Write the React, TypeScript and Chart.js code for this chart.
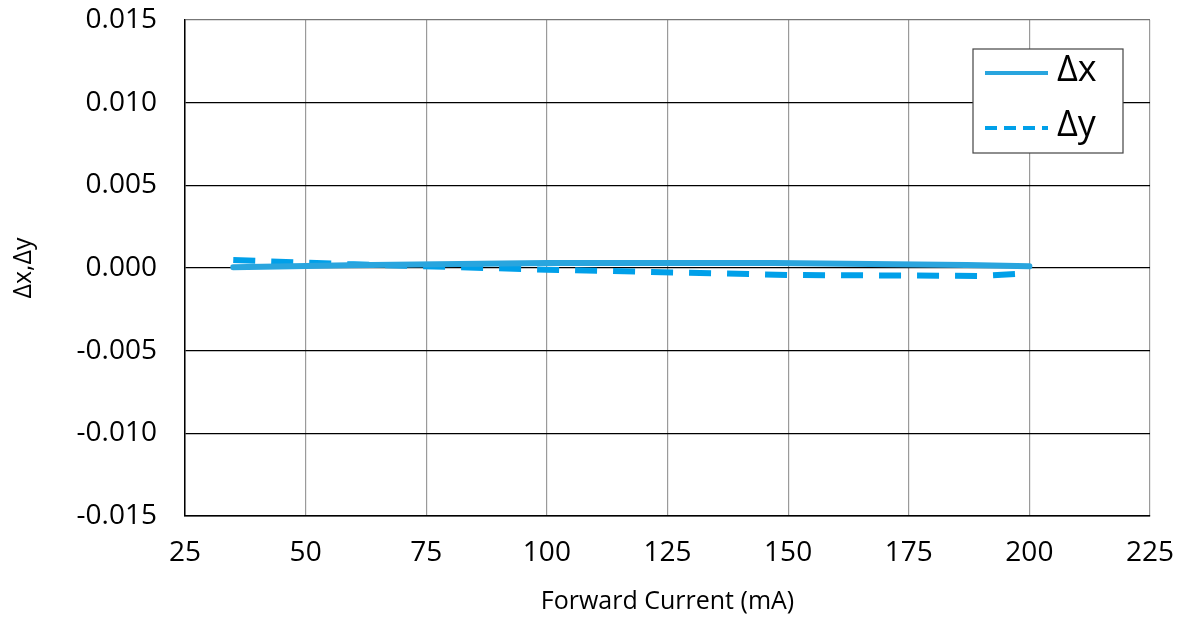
import React, { useEffect, useRef } from "react";
import { Chart, registerables } from "chart.js";

Chart.register(...registerables);

const dxCurrent = [35, 59, 100, 147, 187, 200];
const dxValues = [0.00005, 0.00016, 0.0003, 0.0003, 0.00018, 0.0001];
const dyCurrent = [35, 60, 100, 150, 190, 200];
const dyValues = [0.00048, 0.00022, -0.0001, -0.00042, -0.00048, -0.00032];
const seriesNames = ["Δx", "Δy"];
const xTitle = "Forward Current (mA)";
const yTitle = "Δx,Δy";

const FONT = "'Open Sans', 'Noto Sans', sans-serif";
const SOLID = "#29a5de";
const DASHED = "#00a0e9";

const legendPlugin = {
  id: "customLegend",
  afterDraw(chart: any) {
    const ctx = chart.ctx;
    const ca = chart.chartArea;
    const x0 = ca.right - 177;
    const y0 = ca.top + 29;
    const w = 150;
    const h = 104;
    ctx.save();
    ctx.fillStyle = "#fff";
    ctx.fillRect(x0, y0, w, h);
    ctx.strokeStyle = "#444";
    ctx.lineWidth = 1.2;
    ctx.strokeRect(x0, y0, w, h);
    const rows = [
      { y: y0 + 24, color: SOLID, dash: [] as number[] },
      { y: y0 + 79, color: DASHED, dash: [12, 7] },
    ];
    rows.forEach((r, i) => {
      ctx.beginPath();
      ctx.setLineDash(r.dash);
      ctx.strokeStyle = r.color;
      ctx.lineWidth = 4;
      ctx.moveTo(x0 + 12, r.y);
      ctx.lineTo(x0 + 75, r.y);
      ctx.stroke();
      ctx.setLineDash([]);
      ctx.fillStyle = "#000";
      ctx.font = `36px ${FONT}`;
      ctx.textBaseline = "middle";
      ctx.textAlign = "left";
      ctx.fillText(seriesNames[i], x0 + 84, r.y - 2);
    });
    ctx.restore();
  },
};

export default function App() {
  const ref = useRef<HTMLCanvasElement>(null);
  useEffect(() => {
    const prevMargin = document.body.style.margin;
    document.body.style.margin = "0";
    const chart = new Chart(ref.current!, {
      type: "line",
      data: {
        datasets: [
          {
            label: seriesNames[0],
            data: dxCurrent.map((x, i) => ({ x, y: dxValues[i] })),
            borderColor: SOLID,
            borderWidth: 6,
            pointRadius: 0,
            borderCapStyle: "round",
            tension: 0,
          },
          {
            label: seriesNames[1],
            data: dyCurrent.map((x, i) => ({ x, y: dyValues[i] })),
            borderColor: DASHED,
            borderWidth: 6,
            borderDash: [22, 16],
            pointRadius: 0,
            tension: 0,
          },
        ],
      },
      options: {
        responsive: false,
        animation: false,
        layout: { padding: { top: 20, right: 37, left: 0, bottom: 0 } },
        plugins: { legend: { display: false }, tooltip: { enabled: false } },
        scales: {
          x: {
            type: "linear",
            min: 25,
            max: 225,
            ticks: {
              stepSize: 25,
              color: "#000",
              font: { family: FONT, size: 28 },
              padding: 3,
            },
            grid: {
              color: "#9a9a9a",
              lineWidth: 1.2,
              drawTicks: true,
              tickLength: 17,
              tickColor: "rgba(0,0,0,0)",
            },
            border: { color: "#000", width: 1.5 },
            title: {
              display: true,
              text: xTitle,
              color: "#000",
              font: { family: FONT, size: 25 },
              padding: { top: 0, bottom: 4 },
            },
            afterFit(scale: any) {
              scale.height = 105;
            },
          },
          y: {
            min: -0.015,
            max: 0.015,
            ticks: {
              stepSize: 0.005,
              color: "#000",
              font: { family: FONT, size: 28 },
              padding: 3,
              callback: (v: any) => Number(v).toFixed(3),
            },
            grid: {
              color: (c: any) => (c.index === 6 ? "#777" : "#000"),
              lineWidth: 1.2,
              drawTicks: true,
              tickLength: 25,
              tickColor: "rgba(0,0,0,0)",
            },
            border: { color: "#000", width: 1.5 },
            title: {
              display: true,
              text: yTitle,
              color: "#000",
              font: { family: FONT, size: 25 },
              padding: { top: 9, bottom: 0 },
            },
            afterFit(scale: any) {
              scale.width = 185;
            },
          },
        },
      },
      plugins: [legendPlugin],
    } as any);
    return () => {
      chart.destroy();
      document.body.style.margin = prevMargin;
    };
  }, []);
  return (
    <div style={{ width: 1187, height: 621, background: "#fff" }}>
      <canvas ref={ref} width={1187} height={621} style={{ display: "block" }} />
    </div>
  );
}
